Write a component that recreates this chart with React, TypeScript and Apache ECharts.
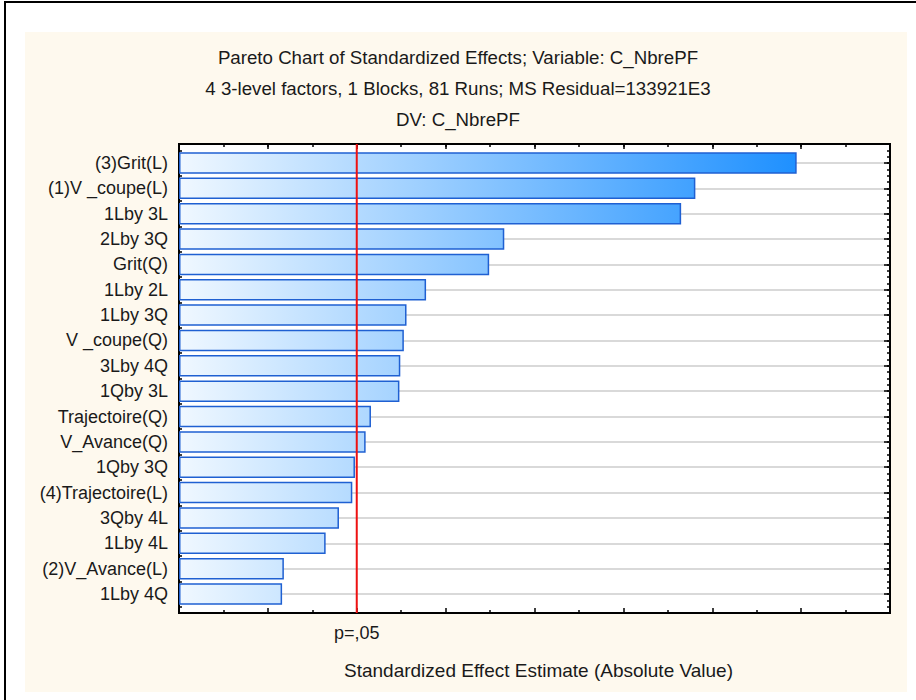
import React, { useEffect, useRef } from "react";
import * as echarts from "echarts";

const categories = [
  "(3)Grit(L)",
  "(1)V _coupe(L)",
  "1Lby 3L",
  "2Lby 3Q",
  "Grit(Q)",
  "1Lby 2L",
  "1Lby 3Q",
  "V _coupe(Q)",
  "3Lby 4Q",
  "1Qby 3L",
  "Trajectoire(Q)",
  "V_Avance(Q)",
  "1Qby 3Q",
  "(4)Trajectoire(L)",
  "3Qby 4L",
  "1Lby 4L",
  "(2)V_Avance(L)",
  "1Lby 4Q",
];
const effects = [6.95, 5.81, 5.65, 3.66, 3.49, 2.78, 2.56, 2.53, 2.49, 2.48, 2.16, 2.1, 1.98, 1.95, 1.8, 1.65, 1.18, 1.16];
const critValue = 2.0;
const critLabel = "p=,05";
const titleLines = [
  "Pareto Chart of Standardized Effects; Variable: C_NbrePF",
  "4 3-level factors, 1 Blocks, 81 Runs; MS Residual=133921E3",
  "DV: C_NbrePF",
];
const xAxisTitle = "Standardized Effect Estimate (Absolute Value)";
const xMin = 0;
const xMax = 8;

const FONT = "'Liberation Sans', Arial, sans-serif";
const TXT = "#1a1a1a";

const PLOT_LEFT = 179;
const PLOT_TOP = 144;
const PLOT_W = 711;
const PLOT_H = 469;
const PAD_ROWS = 0.75;

export default function App() {
  const ref = useRef<HTMLDivElement>(null);
  useEffect(() => {
    if (!ref.current) return;
    const chart = echarts.init(ref.current, null, { renderer: "svg" });
    const n = categories.length;
    const totalRows = n - 1 + 2 * PAD_ROWS;
    const rowH = PLOT_H / totalRows;
    const innerTop = PLOT_TOP + PAD_ROWS * rowH;
    const innerH = (n - 1) * rowH;
    const pxPerUnit = PLOT_W / (xMax - xMin);
    const gradEnd = PLOT_LEFT + (effects[0] - xMin) * pxPerUnit;

    // tick positions for the frame (top / left / right)
    const majorX: string[] = [];
    for (let v = xMin; v <= xMax + 1e-9; v += 1) majorX.push(String(v));
    const minorX: string[] = [];
    for (let v = xMin; v <= xMax + 1e-9; v += 0.5) minorX.push(String(v));
    const minorY: string[] = [];
    for (let v = 0; v <= totalRows + 1e-9; v += 0.25) minorY.push(String(v));

    const grad = new echarts.graphic.LinearGradient(
      PLOT_LEFT,
      0,
      gradEnd,
      0,
      [
        { offset: 0, color: "#f0f8ff" },
        { offset: 1, color: "#1e90ff" },
      ],
      true
    );

    const frameRect = { left: PLOT_LEFT, top: PLOT_TOP, width: PLOT_W, height: PLOT_H, outerBoundsMode: "none" };
    const tickStyle = { color: "#000", width: 1.5 };
    const hiddenX = (gridIndex: number) => ({ type: "value", gridIndex, min: xMin, max: xMax, show: false, splitLine: { show: false } });
    const hiddenY = (gridIndex: number) => ({ type: "value", gridIndex, min: 0, max: totalRows, inverse: true, show: false, splitLine: { show: false } });
    const tickCatX = (gridIndex: number, data: string[], length: number) => ({
      type: "category",
      gridIndex,
      position: "top",
      data,
      boundaryGap: false,
      axisLine: { show: false },
      axisTick: { show: true, inside: true, interval: 0, length, lineStyle: tickStyle },
      axisLabel: { show: false, interval: 0 },
      splitLine: { show: false },
    });
    const tickCatY = (gridIndex: number, data: string[], position: string, length: number, extra: any = {}) => ({
      type: "category",
      gridIndex,
      position,
      data,
      inverse: true,
      boundaryGap: false,
      axisLine: { show: false },
      axisTick: { show: true, inside: true, interval: 0, length, lineStyle: tickStyle },
      axisLabel: { show: false, interval: 0 },
      splitLine: { show: false },
      ...extra,
    });

    chart.setOption({
      animation: false,
      title: {
        text: titleLines.join("\n"),
        left: "center",
        top: 37,
        padding: [5, 0, 5, 12],
        textStyle: { fontFamily: FONT, fontSize: 18.7, fontWeight: "normal", color: TXT, lineHeight: 31 },
      },
      grid: [
        { ...frameRect, show: true, backgroundColor: "#ffffff", borderColor: "#000000", borderWidth: 2 },
        { left: PLOT_LEFT, top: innerTop, width: PLOT_W, height: innerH, outerBoundsMode: "none" },
        { ...frameRect },
        { ...frameRect },
        { ...frameRect },
      ],
      xAxis: [
        {
          type: "value",
          gridIndex: 0,
          position: "bottom",
          min: xMin,
          max: xMax,
          interval: 1,
          axisLine: { show: true, onZero: false, lineStyle: { color: "#000", width: 2 } },
          axisTick: { show: true, inside: true, length: 5, lineStyle: tickStyle },
          minorTick: { show: true, splitNumber: 2, length: 3, lineStyle: tickStyle },
          splitLine: { show: false },
          axisLabel: {
            show: true,
            margin: 11,
            fontFamily: FONT,
            fontSize: 18,
            color: TXT,
            formatter: (v: number) => (Math.abs(v - critValue) < 1e-9 ? critLabel : ""),
          },
          name: xAxisTitle,
          nameLocation: "middle",
          nameGap: 48,
          nameTextStyle: { fontFamily: FONT, fontSize: 19, color: TXT, padding: [0, 0, 0, 8] },
        },
        hiddenX(1),
        tickCatX(2, majorX, 5),
        tickCatX(3, minorX, 3),
        hiddenX(4),
      ],
      yAxis: [
        hiddenY(0),
        tickCatY(1, categories, "left", 6, {
          axisLabel: { show: true, interval: 0, margin: 11, fontFamily: FONT, fontSize: 18, color: TXT },
          splitLine: { show: true, interval: 0, lineStyle: { color: "#d9d9d9", width: 2 } },
        }),
        tickCatY(1, categories, "right", 6),
        hiddenY(2),
        hiddenY(3),
        tickCatY(4, minorY, "left", 3),
        tickCatY(4, minorY, "right", 3),
      ],
      series: [
        {
          type: "bar",
          xAxisIndex: 1,
          yAxisIndex: 1,
          data: effects,
          barWidth: 21.5,
          itemStyle: { color: grad, borderColor: "#1f60d2", borderWidth: 1.5 },
          z: 3,
        },
        {
          type: "line",
          xAxisIndex: 0,
          yAxisIndex: 0,
          data: [
            [critValue, 0],
            [critValue, totalRows],
          ],
          symbol: "none",
          lineStyle: { color: "#ee1111", width: 2 },
          z: 6,
        },
      ],
    });
    return () => chart.dispose();
  }, []);

  return (
    <div style={{ position: "fixed", left: 0, top: 0, width: 916, height: 700, background: "#ffffff" }}>
      <div style={{ position: "absolute", left: 4, top: 1, width: 912, height: 0, borderTop: "2px solid #000" }} />
      <div style={{ position: "absolute", left: 4, top: 1, width: 0, height: 699, borderLeft: "2px solid #000" }} />
      <div style={{ position: "absolute", left: 25, top: 32, width: 882, height: 660, background: "#fef9ee" }} />
      <div ref={ref} style={{ position: "absolute", left: 0, top: 0, width: 916, height: 700 }} />
    </div>
  );
}
